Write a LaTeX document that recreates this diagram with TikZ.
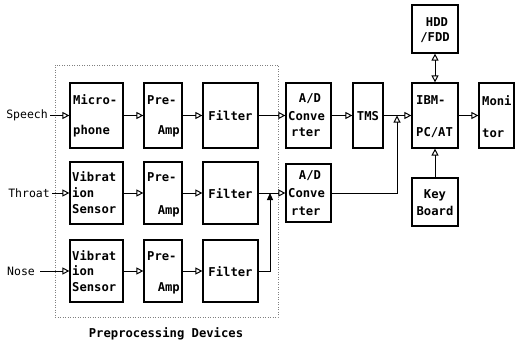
\documentclass[tikz,border=0pt]{standalone}
\usepackage{fontspec}
\setmonofont{DejaVu Sans Mono}
\usetikzlibrary{arrows.meta}
\begin{document}
\begin{tikzpicture}[x=1pt,y=-1pt,
  box/.style={draw, line width=1.2pt, inner sep=0pt},
  grpbox/.style={draw=gray, line width=0.7pt, dash pattern=on 1pt off 1.5pt, inner sep=0pt},
  tx/.style={font=\ttfamily\bfseries\fontsize{12.2}{14}\selectfont, inner sep=0pt},
  lab/.style={font=\ttfamily\fontsize{11.5}{14}\selectfont, inner sep=2pt},
  conn/.style={line width=1pt, -{Triangle[open,length=7pt,width=7pt,line width=1pt]}},
  connf/.style={line width=1pt, -{Triangle[length=7pt,width=6pt]}},
  conn2/.style={line width=1pt, {Triangle[open,length=7pt,width=7pt,line width=1pt]}-{Triangle[open,length=7pt,width=7pt,line width=1pt]}}
]
\useasboundingbox (0,0) rectangle (516,345);

% group frame
\node[grpbox, minimum width=223pt, minimum height=252pt] (grp) at (166.5,191) {};
\node[tx] (grplab) at (166,334) {Preprocessing Devices};

% row 1
\node[box, minimum width=53pt, minimum height=65pt] (mic) at (96.5,115.5) {};
\node[box, minimum width=38pt, minimum height=65pt] (pa1) at (163,115.5) {};
\node[box, minimum width=55pt, minimum height=65pt] (fi1) at (230.5,115.5) {};
% row 2
\node[box, minimum width=53pt, minimum height=62pt] (vs2) at (96.5,193) {};
\node[box, minimum width=38pt, minimum height=62pt] (pa2) at (163,193) {};
\node[box, minimum width=55pt, minimum height=62pt] (fi2) at (230.5,193) {};
% row 3
\node[box, minimum width=53pt, minimum height=62pt] (vs3) at (96.5,271) {};
\node[box, minimum width=38pt, minimum height=62pt] (pa3) at (163,271) {};
\node[box, minimum width=55pt, minimum height=62pt] (fi3) at (230.5,271) {};
% right part
\node[box, minimum width=45pt, minimum height=65pt] (ad1) at (308.5,115.5) {};
\node[box, minimum width=30pt, minimum height=65pt] (tms) at (368,115.5) {};
\node[box, minimum width=46pt, minimum height=65pt] (ibm) at (435,115.5) {};
\node[box, minimum width=35pt, minimum height=65pt] (mon) at (496.5,115.5) {};
\node[box, minimum width=46pt, minimum height=48pt] (hdd) at (435,29) {};
\node[box, minimum width=45pt, minimum height=58pt] (ad2) at (308.5,193) {};
\node[box, minimum width=46pt, minimum height=48pt] (key) at (435,202) {};

% texts row 1
\node[tx, anchor=west] (t1a) at (73,100) {Micro-};
\node[tx, anchor=west] (t1b) at (73,131) {phone};
\node[tx, anchor=west] (t2a) at (147,100) {Pre-};
\node[tx, anchor=east] (t2b) at (180,131) {Amp};
\node[tx] (t3) at (230.5,116) {Filter};
% texts row 2
\node[tx, anchor=west] (t4a) at (72,177) {Vibrat};
\node[tx, anchor=west] (t4b) at (72,193) {ion};
\node[tx, anchor=west] (t4c) at (72,209) {Sensor};
\node[tx, anchor=west] (t5a) at (147,177) {Pre-};
\node[tx, anchor=east] (t5b) at (180,211) {Amp};
\node[tx] (t6) at (230.5,194) {Filter};
% texts row 3
\node[tx, anchor=west] (t7a) at (72,256) {Vibrat};
\node[tx, anchor=west] (t7b) at (72,271) {ion};
\node[tx, anchor=west] (t7c) at (72,287) {Sensor};
\node[tx, anchor=west] (t8a) at (147,256) {Pre-};
\node[tx, anchor=east] (t8b) at (180,288) {Amp};
\node[tx] (t9) at (230.5,272) {Filter};
% texts right
\node[tx] (t10a) at (310,99) {A/D};
\node[tx, anchor=west] (t10b) at (288,116) {Conve};
\node[tx, anchor=west] (t10c) at (291,132) {rter};
\node[tx] (t11) at (368,116) {TMS};
\node[tx, anchor=west] (t12a) at (416,100) {IBM-};
\node[tx, anchor=west] (t12b) at (416,133) {PC/AT};
\node[tx, anchor=west] (t13a) at (482,101) {Moni};
\node[tx, anchor=west] (t13b) at (482,133) {tor};
\node[tx] (t14a) at (437,22) {HDD};
\node[tx] (t14b) at (435,38) {/FDD};
\node[tx] (t15a) at (310,176) {A/D};
\node[tx, anchor=west] (t15b) at (288,193) {Conve};
\node[tx, anchor=west] (t15c) at (291,211) {rter};
\node[tx] (t16a) at (435,195) {Key};
\node[tx] (t16b) at (435,211) {Board};

% input labels
\node[lab, anchor=east] (sp) at (50,115.5) {Speech};
\node[lab, anchor=east] (th) at (52,193) {Throat};
\node[lab, anchor=west] (no) at (5,271) {Nose};

% junctions
\coordinate (j1) at (270,193);
\coordinate (j2) at (397,115.5);

% connectors
\draw[conn] (sp.east) -- (mic.west);
\draw[conn] (th.east) -- (vs2.west);
\draw[conn] ([xshift=3pt]no.east) -- (vs3.west);
\draw[conn] (mic.east) -- (pa1.west);
\draw[conn] (pa1.east) -- (fi1.west);
\draw[conn] (fi1.east) -- (ad1.west);
\draw[conn] (vs2.east) -- (pa2.west);
\draw[conn] (pa2.east) -- (fi2.west);
\draw[conn] (fi2.east) -- (ad2.west);
\draw[conn] (vs3.east) -- (pa3.west);
\draw[conn] (pa3.east) -- (fi3.west);
\draw[connf] (fi3.east) -| (j1);
\draw[conn] (ad1.east) -- (tms.west);
\draw[conn] (tms.east) -- (ibm.west);
\draw[conn] (ad2.east) -| (j2);
\draw[conn] (ibm.east) -- (mon.west);
\draw[conn2] (hdd.south) -- (ibm.north);
\draw[conn] (key.north) -- (ibm.south);
\end{tikzpicture}
\end{document}
